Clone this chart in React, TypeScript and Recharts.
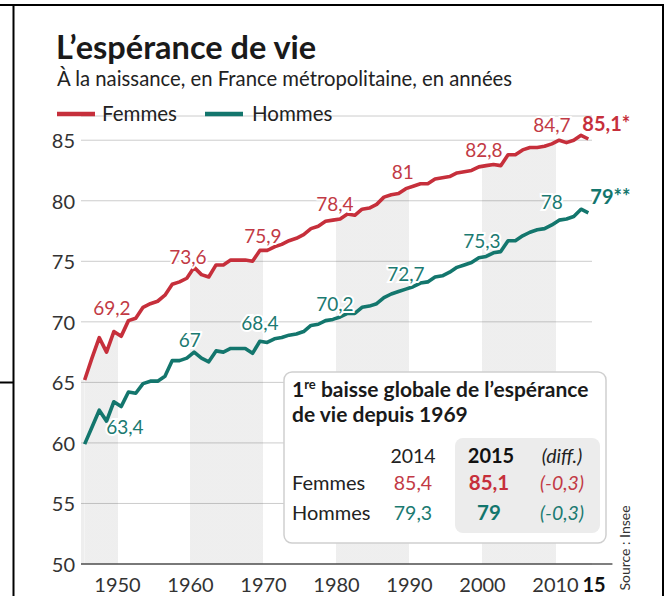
import React from 'react';
import {
  ComposedChart,
  Line,
  Area,
  XAxis,
  YAxis,
  CartesianGrid,
  ReferenceArea,
  ReferenceLine,
  LabelList,
} from 'recharts';

const years = [
  1946, 1947, 1948, 1949, 1950, 1951, 1952, 1953, 1954, 1955, 1956, 1957, 1958, 1959,
  1960, 1961, 1962, 1963, 1964, 1965, 1966, 1967, 1968, 1969, 1970, 1971, 1972, 1973,
  1974, 1975, 1976, 1977, 1978, 1979, 1980, 1981, 1982, 1983, 1984, 1985, 1986, 1987,
  1988, 1989, 1990, 1991, 1992, 1993, 1994, 1995, 1996, 1997, 1998, 1999, 2000, 2001,
  2002, 2003, 2004, 2005, 2006, 2007, 2008, 2009, 2010, 2011, 2012, 2013, 2014, 2015,
];

const femmes = [
  65.2, 67.0, 68.7, 67.5, 69.2, 68.8, 70.1, 70.3, 71.2, 71.5, 71.7, 72.2, 73.1, 73.3,
  73.6, 74.5, 73.9, 73.7, 74.7, 74.7, 75.1, 75.1, 75.1, 75.0, 75.9, 75.9, 76.2, 76.4,
  76.7, 76.9, 77.2, 77.7, 77.9, 78.3, 78.4, 78.5, 78.9, 78.8, 79.3, 79.4, 79.7, 80.3,
  80.5, 80.6, 81.0, 81.2, 81.4, 81.4, 81.8, 81.9, 82.0, 82.3, 82.4, 82.5, 82.8, 82.9,
  83.0, 82.9, 83.8, 83.8, 84.2, 84.4, 84.4, 84.5, 84.7, 85.0, 84.8, 85.0, 85.4, 85.1,
];

const hommes = [
  59.9, 61.3, 62.7, 61.8, 63.4, 63.0, 64.2, 64.1, 64.9, 65.1, 65.1, 65.5, 66.8, 66.8,
  67.0, 67.5, 67.0, 66.7, 67.6, 67.5, 67.8, 67.8, 67.8, 67.4, 68.4, 68.3, 68.6, 68.7,
  68.9, 69.0, 69.2, 69.7, 69.8, 70.1, 70.2, 70.4, 70.7, 70.7, 71.2, 71.3, 71.5, 72.0,
  72.3, 72.5, 72.7, 72.9, 73.2, 73.3, 73.7, 73.8, 74.1, 74.5, 74.7, 74.9, 75.3, 75.4,
  75.7, 75.8, 76.7, 76.7, 77.1, 77.4, 77.6, 77.7, 78.0, 78.4, 78.5, 78.7, 79.3, 79.0,
];

const yTicks = [50, 55, 60, 65, 70, 75, 80, 85];
const xTickYears = [1950, 1960, 1970, 1980, 1990, 2000, 2010, 2015];
const xTickLabels = ['1950', '1960', '1970', '1980', '1990', '2000', '2010', '15'];
const decadeBands = [
  [1945.5, 1950.5],
  [1960.5, 1970.5],
  [1980.5, 1990.5],
  [2000.5, 2010.5],
];

// annotated years and label placement (offsets in px)
const femmesLabels = [
  { year: 1950, dx: -2, dy: -24 },
  { year: 1960, dx: 1, dy: -22 },
  { year: 1970, dx: 3, dy: -15 },
  { year: 1980, dx: 2, dy: -17 },
  { year: 1990, dx: -3, dy: -17 },
  { year: 2000, dx: 5, dy: -17 },
  { year: 2010, dx: 0, dy: -19 },
  { year: 2015, dx: -6, dy: -16, bold: true, suffix: '*', anchor: 'start' },
];
const hommesLabels = [
  { year: 1950, dx: 11, dy: 25 },
  { year: 1960, dx: 3, dy: -19 },
  { year: 1970, dx: 0, dy: -19 },
  { year: 1980, dx: 2, dy: -16 },
  { year: 1990, dx: 0, dy: -16 },
  { year: 2000, dx: 3, dy: -17 },
  { year: 2010, dx: 0, dy: -23 },
  { year: 2015, dx: 2, dy: -17, bold: true, suffix: '**', anchor: 'start' },
];

const RED = '#c62f3b';
const TEAL = '#13766d';
const RED_TXT = '#c23a45';
const TEAL_TXT = '#1b7a71';
const FONT = 'Lato, "Open Sans", sans-serif';

const data = years.map((y, i) => ({ year: y, f: femmes[i], h: hommes[i] }));
const fmt = (v: number) => String(v).replace('.', ',');

const makeLabel = (cfg: any[], color: string, boldColor: string) => (props: any) => {
  const { x, y, index, value } = props;
  const c = cfg.find((k) => k.year === years[index]);
  if (!c || x == null || y == null) return null;
  return (
    <text
      x={x + c.dx}
      y={y + c.dy}
      textAnchor={c.anchor || 'middle'}
      dominantBaseline="central"
      fill={c.bold ? boldColor : color}
      fontSize={c.bold ? 20 : 19}
      fontWeight={c.bold ? 700 : 400}
      fontFamily={FONT}
      stroke="#fff"
      strokeWidth={c.bold ? 0 : 4}
      paintOrder="stroke"
    >
      {fmt(value) + (c.suffix || '')}
    </text>
  );
};

const x0 = years[0];
const x1 = years[years.length - 1];
const bandStops: { o: number; op: number }[] = [{ o: 0, op: 0 }];
decadeBands.forEach(([a, b]) => {
  const oa = (Math.max(a, x0) - x0) / (x1 - x0);
  const ob = (Math.min(b, x1) - x0) / (x1 - x0);
  bandStops.push({ o: oa, op: 0 }, { o: oa, op: 1 }, { o: ob, op: 1 }, { o: ob, op: 0 });
});
bandStops.push({ o: 1, op: 0 });

const XTick = (p: any) => {
  const v = p.payload.value;
  const idx = xTickYears.findIndex((y) => y + 0.5 === v);
  const last = idx === xTickYears.length - 1;
  return (
    <text
      x={p.x + (last ? 2 : 0)}
      y={p.y + 20}
      textAnchor="middle"
      dominantBaseline="central"
      fontSize={20}
      fontWeight={last ? 700 : 400}
      fill={last ? '#111' : '#333'}
      fontFamily={FONT}
    >
      {xTickLabels[idx]}
    </text>
  );
};

const YTick = (p: any) => (
  <text
    x={p.x - 6}
    y={p.y}
    textAnchor="end"
    dominantBaseline="central"
    fontSize={20}
    fill="#333"
    fontFamily={FONT}
  >
    {p.payload.value}
  </text>
);

const n = femmes.length;
const tableRows = [
  { name: 'Femmes', prev: femmes[n - 2], cur: femmes[n - 1], color: RED_TXT, bold: RED },
  { name: 'Hommes', prev: hommes[n - 2], cur: hommes[n - 1], color: TEAL_TXT, bold: TEAL },
];

export default function App() {
  return (
    <div style={{ position: 'absolute', left: 0, top: 0, width: 668, height: 596, background: '#fff', fontFamily: FONT }}>
      <svg width={0} height={0} style={{ position: 'absolute' }}>
        <defs>
          <linearGradient id="bandFill" x1="0" y1="0" x2="1" y2="0">
            {bandStops.map((s, i) => (
              <stop key={i} offset={s.o} stopColor="#000" stopOpacity={s.op * 0.065} />
            ))}
          </linearGradient>
        </defs>
      </svg>
      <div style={{ position: 'absolute', left: 0, top: 0 }}>
        <ComposedChart width={668} height={596} data={data} margin={{ top: 116, right: 76, bottom: 4, left: 20 }}>
          <CartesianGrid vertical={false} stroke="#cccccc" strokeWidth={1} />
          <XAxis
            dataKey="year"
            type="number"
            domain={[1945.5, 2015.5]}
            ticks={xTickYears.map((y) => y + 0.5)}
            interval={0}
            axisLine={false}
            tickLine={false}
            tickSize={0}
            tickMargin={0}
            height={28}
            tick={XTick}
          />
          <YAxis
            type="number"
            domain={[50, 87]}
            ticks={yTicks}
            interval={0}
            axisLine={false}
            tickLine={false}
            tickSize={0}
            tickMargin={0}
            width={61}
            tick={YTick}
            allowDataOverflow
          />
          <ReferenceArea x1={1945.5} x2={years[0]} y1={50} y2={femmes[0]} fill="#000" fillOpacity={0.065} stroke="none" />
          <Area
            dataKey="f"
            type="linear"
            stroke="none"
            fill="url(#bandFill)"
            fillOpacity={1}
            baseValue={50}
            dot={false}
            activeDot={false}
            isAnimationActive={false}
          />
          <ReferenceLine
            segment={[{ x: 1945.5, y: 50 }, { x: 2018.3, y: 50 }]}
            ifOverflow="visible"
            stroke="#555"
            strokeWidth={1.5}
          />
          <Line
            dataKey="h"
            type="linear"
            stroke={TEAL}
            strokeWidth={3.6}
            dot={false}
            activeDot={false}
            isAnimationActive={false}
            strokeLinejoin="round"
          >
            <LabelList dataKey="h" content={makeLabel(hommesLabels, TEAL_TXT, TEAL)} />
          </Line>
          <Line
            dataKey="f"
            type="linear"
            stroke={RED}
            strokeWidth={3.6}
            dot={false}
            activeDot={false}
            isAnimationActive={false}
            strokeLinejoin="round"
          >
            <LabelList dataKey="f" content={makeLabel(femmesLabels, RED_TXT, RED)} />
          </Line>
        </ComposedChart>
      </div>
      <svg
        width={668}
        height={596}
        style={{ position: 'absolute', left: 0, top: 0, pointerEvents: 'none' }}
        fontFamily={FONT}
      >
        {/* frame */}
        <line x1={0} y1={5} x2={664} y2={5} stroke="#000" strokeWidth={2} />
        <line x1={13.5} y1={5} x2={13.5} y2={596} stroke="#000" strokeWidth={2} />
        <line x1={0} y1={382.5} x2={13.5} y2={382.5} stroke="#000" strokeWidth={2} />
        <line x1={663} y1={5} x2={663} y2={596} stroke="#000" strokeWidth={2} />

        {/* title */}
        <text x={56} y={59} fontSize={32.5} fontWeight={700} fill="#1a1a1a">
          L’espérance de vie
        </text>
        <text x={57} y={86} fontSize={20.3} fill="#222">
          À la naissance, en France métropolitaine, en années
        </text>

        {/* legend */}
        <line x1={57} y1={114} x2={95} y2={114} stroke={RED} strokeWidth={4.5} />
        <text x={102} y={121} fontSize={20.5} fill="#222">Femmes</text>
        <line x1={205} y1={114} x2={243} y2={114} stroke={TEAL} strokeWidth={4.5} />
        <text x={252} y={121} fontSize={20.5} fill="#222">Hommes</text>

        {/* inset */}
        <rect x={284} y={372} width={322} height={171} rx={8} fill="#fff" stroke="#cfcfcf" strokeWidth={1.5} />
        <rect x={455} y={438} width={145} height={95} rx={8} fill="#ececec" />
        <text x={292} y={397} fontSize={21} fontWeight={700} fill="#1a1a1a">
          1<tspan fontSize={13} dy={-8}>re</tspan>
          <tspan dy={8}> baisse globale de l’espérance</tspan>
        </text>
        <text x={292} y={422} fontSize={21} fontWeight={700} fill="#1a1a1a">
          de vie depuis 1969
        </text>
        <text x={413} y={463} fontSize={19.5} textAnchor="middle" fill="#222">{String(years[n - 2])}</text>
        <text x={491} y={463} fontSize={20} fontWeight={700} textAnchor="middle" fill="#111">{String(years[n - 1])}</text>
        <text x={562} y={463} fontSize={19.5} fontStyle="italic" textAnchor="middle" fill="#222">(diff.)</text>
        {tableRows.map((r, i) => {
          const y = 490 + i * 30;
          const diff = Math.round((r.cur - r.prev) * 10) / 10;
          return (
            <g key={r.name}>
              <text x={292} y={y} fontSize={20} fill="#222">{r.name}</text>
              <text x={413} y={y} fontSize={19.5} textAnchor="middle" fill={r.color}>{fmt(r.prev)}</text>
              <text x={489} y={y} fontSize={20.5} fontWeight={700} textAnchor="middle" fill={r.bold}>{fmt(r.cur)}</text>
              <text x={562} y={y} fontSize={19.5} fontStyle="italic" textAnchor="middle" fill={r.color}>
                {'(' + fmt(diff) + ')'}
              </text>
            </g>
          );
        })}

        {/* source */}
        <text x={630} y={548} fontSize={14} fill="#333" textAnchor="middle" transform="rotate(-90 630 548)">
          Source : Insee
        </text>
      </svg>
    </div>
  );
}
